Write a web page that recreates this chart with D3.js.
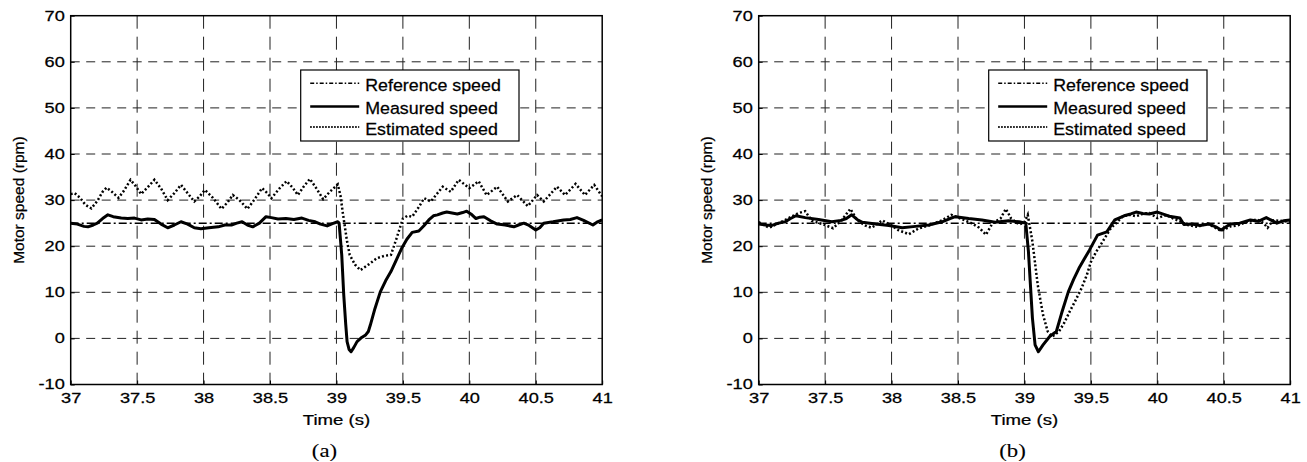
<!DOCTYPE html>
<html>
<head>
<meta charset="utf-8">
<script src="https://cdn.jsdelivr.net/npm/d3@7"></script>
<style>
    body { margin: 0; background: #fff; }
    svg text { font-family: "Liberation Sans", Arial, sans-serif; fill: #000; stroke: #000; stroke-width: 0.25px; }
</style>
</head>
<body>
<svg id="chart" width="1307" height="462"></svg>
<script>

// Axis ticks and labels
const timeTicks = [37, 37.5, 38, 38.5, 39, 39.5, 40, 40.5, 41];
const speedTicks = [-10, 0, 10, 20, 30, 40, 50, 60, 70];
const legendNames = ["Reference speed", "Measured speed", "Estimated speed"];
const captions = ["(a)", "(b)"];
const xTitle = "Time (s)";
const yTitle = "Motor speed (rpm)";

// Reference speed (rpm), constant
const referenceSpeed = [[37, 25], [41, 25]];

// (a) [time s, speed rpm]
const measuredA = [[37.00,25.0],[37.05,24.8],[37.10,24.3],[37.13,24.2],[37.17,24.6],[37.20,25.0],[37.24,26.0],[37.28,26.8],
    [37.32,26.4],[37.38,26.1],[37.43,26.0],[37.48,26.1],[37.53,25.7],[37.58,25.9],[37.63,25.8],[37.68,24.8],[37.73,24.0],
    [37.78,24.6],[37.83,25.3],[37.88,24.8],[37.93,24.0],[37.98,23.8],[38.04,24.0],[38.11,24.2],[38.16,24.6],[38.21,24.6],
    [38.25,25.0],[38.29,25.3],[38.33,24.6],[38.37,24.2],[38.42,25.0],[38.47,26.4],[38.51,26.2],[38.56,25.9],[38.62,26.0],
    [38.68,25.8],[38.74,26.1],[38.79,25.6],[38.84,25.3],[38.88,24.8],[38.93,24.4],[38.97,24.9],[39.01,25.3],[39.02,25.0],
    [39.04,18.0],[39.055,9.4],[39.07,3.0],[39.08,-0.7],[39.095,-2.4],[39.11,-2.9],[39.13,-2.0],[39.155,-0.7],[39.19,0.2],
    [39.22,0.75],[39.24,1.5],[39.255,2.9],[39.29,6.5],[39.33,10.1],[39.37,12.5],[39.41,14.5],[39.45,17.0],[39.49,19.5],
    [39.53,21.5],[39.57,23.0],[39.62,23.3],[39.66,24.5],[39.695,25.7],[39.73,26.6],[39.76,26.8],[39.80,27.2],[39.83,27.4],
    [39.87,27.2],[39.91,27.0],[39.95,27.3],[39.98,27.6],[40.02,26.8],[40.05,26.0],[40.08,26.3],[40.11,26.4],[40.16,25.5],
    [40.21,24.8],[40.27,24.6],[40.335,24.2],[40.37,24.6],[40.41,25.0],[40.45,24.5],[40.50,23.5],[40.53,24.0],[40.56,25.0],
    [40.63,25.3],[40.71,25.7],[40.76,25.8],[40.81,26.2],[40.86,25.6],[40.93,24.6],[40.96,25.2],[41.00,25.7]];

const estimatedA = [[37.00,31.3],[37.03,31.5],[37.07,30.5],[37.11,29.0],[37.155,28.2],[37.20,29.8],[37.24,31.8],[37.27,32.7],
    [37.31,31.8],[37.36,30.5],[37.40,32.0],[37.45,34.4],[37.49,33.0],[37.53,31.3],[37.58,32.8],[37.63,34.4],[37.68,32.5],
    [37.73,30.0],[37.78,31.5],[37.83,33.3],[37.88,31.5],[37.93,29.7],[37.97,30.8],[38.01,32.2],[38.07,30.5],[38.135,28.1],
    [38.18,29.5],[38.22,31.1],[38.27,30.0],[38.33,28.1],[38.38,30.0],[38.44,32.6],[38.48,31.5],[38.51,30.4],[38.57,32.5],
    [38.625,34.1],[38.67,32.7],[38.71,31.1],[38.75,32.8],[38.80,34.6],[38.85,32.5],[38.90,30.2],[38.95,31.8],[39.01,33.4],
    [39.03,31.0],[39.05,26.8],[39.08,21.0],[39.10,18.1],[39.14,16.0],[39.18,14.8],[39.24,16.0],[39.305,17.4],[39.36,17.9],
    [39.41,18.1],[39.45,21.5],[39.50,26.0],[39.535,26.6],[39.57,26.4],[39.62,28.5],[39.66,30.4],[39.71,29.7],[39.76,31.5],
    [39.80,32.9],[39.86,31.8],[39.92,34.4],[39.96,33.5],[40.00,32.6],[40.07,34.1],[40.13,31.1],[40.21,32.9],[40.29,29.7],
    [40.36,31.1],[40.44,28.7],[40.51,31.1],[40.56,29.7],[40.66,32.9],[40.72,31.1],[40.80,33.5],[40.87,31.1],[40.94,33.3],
    [41.00,30.8]];

// (b) [time s, speed rpm]
const measuredB = [[37.00,24.8],[37.05,24.6],[37.10,24.5],[37.15,25.0],[37.20,25.3],[37.24,26.0],[37.28,26.6],[37.35,26.2],
    [37.45,25.8],[37.55,25.3],[37.62,25.6],[37.66,26.0],[37.70,26.8],[37.74,25.8],[37.78,25.2],[37.88,24.8],[37.98,24.5],
    [38.08,24.0],[38.18,24.3],[38.28,24.6],[38.38,25.3],[38.44,26.0],[38.48,26.4],[38.58,26.0],[38.68,25.7],[38.78,25.2],
    [38.88,25.5],[38.96,25.3],[39.01,25.0],[39.03,18.8],[39.06,4.4],[39.08,-1.4],[39.105,-2.9],[39.14,-1.4],[39.19,0.4],
    [39.24,1.5],[39.28,5.5],[39.33,10.1],[39.37,12.8],[39.41,15.2],[39.45,17.2],[39.49,19.2],[39.55,22.4],[39.62,23.1],
    [39.68,25.7],[39.75,26.6],[39.80,27.0],[39.84,27.4],[39.89,27.1],[39.94,27.0],[40.00,27.4],[40.05,26.9],[40.09,26.5],
    [40.17,26.1],[40.20,24.7],[40.26,24.8],[40.32,24.5],[40.39,24.8],[40.44,24.2],[40.48,23.5],[40.55,24.8],[40.62,25.0],
    [40.70,25.7],[40.76,25.4],[40.82,26.2],[40.86,25.6],[40.90,25.0],[40.95,25.5],[41.00,25.7]];

const estimatedB = [[37.00,25.2],[37.04,24.6],[37.08,24.0],[37.15,25.0],[37.22,26.0],[37.30,27.2],[37.35,27.6],[37.40,25.5],
    [37.48,24.8],[37.56,23.9],[37.62,25.5],[37.69,28.1],[37.74,25.7],[37.80,24.5],[37.85,24.0],[37.93,25.6],[38.00,24.5],
    [38.05,23.5],[38.13,22.6],[38.20,23.8],[38.28,24.5],[38.38,25.6],[38.45,26.8],[38.52,26.0],[38.60,25.0],[38.66,24.0],
    [38.71,22.5],[38.76,25.0],[38.82,26.0],[38.86,28.1],[38.90,26.0],[38.96,24.7],[39.00,25.2],[39.025,26.8],[39.06,21.0],
    [39.10,11.6],[39.14,5.1],[39.175,1.5],[39.21,0.4],[39.26,1.5],[39.30,3.4],[39.34,5.8],[39.38,8.0],[39.43,10.9],
    [39.47,13.8],[39.50,16.6],[39.54,18.8],[39.58,20.6],[39.65,23.9],[39.70,25.3],[39.74,26.5],[39.79,26.8],[39.84,26.5],
    [39.89,27.0],[39.94,27.2],[40.00,26.1],[40.07,26.8],[40.12,26.0],[40.17,25.4],[40.23,24.6],[40.30,24.2],[40.38,24.9],
    [40.48,23.3],[40.55,24.3],[40.60,24.5],[40.68,25.3],[40.75,25.8],[40.80,25.0],[40.83,24.0],[40.87,25.6],[40.93,25.5],
    [41.00,25.3]];


class SpeedPanel {

    constructor(svg, left, measured, estimated, caption, id) {
        this.svg = svg;
        this.left = left;
        this.measured = measured;
        this.estimated = estimated;
        this.caption = caption;
        this.id = id;
        this.initVis();
    }

    initVis() {
        let vis = this;

        vis.top = 15.7;
        vis.width = 531.5;
        vis.height = 368.8;

        vis.g = vis.svg.append("g")
            .attr("transform", `translate(${vis.left},${vis.top})`);

        vis.x = d3.scaleLinear().domain([37, 41]).range([0, vis.width]);
        vis.y = d3.scaleLinear().domain([-10, 70]).range([vis.height, 0]);

        // Dashed grid
        vis.g.append("g")
            .selectAll("line")
            .data(speedTicks.slice(1, -1))
            .join("line")
            .attr("x1", 0).attr("x2", vis.width)
            .attr("y1", d => vis.y(d)).attr("y2", d => vis.y(d))
            .attr("stroke", "#222").attr("stroke-width", 1)
            .attr("stroke-dasharray", "9,6.5");

        vis.g.append("g")
            .selectAll("line")
            .data(timeTicks.slice(1, -1))
            .join("line")
            .attr("x1", d => vis.x(d)).attr("x2", d => vis.x(d))
            .attr("y1", 0).attr("y2", vis.height)
            .attr("stroke", "#222").attr("stroke-width", 1)
            .attr("stroke-dasharray", "13,8");

        // Axes
        let xAxis = vis.g.append("g")
            .attr("transform", `translate(0,${vis.height})`)
            .call(d3.axisBottom(vis.x).tickValues(timeTicks).tickFormat(d => String(d)).tickSizeInner(-4).tickSizeOuter(0).tickPadding(9));
        let yAxis = vis.g.append("g")
            .call(d3.axisLeft(vis.y).tickValues(speedTicks).tickFormat(d => String(d)).tickSizeInner(-4).tickSizeOuter(0).tickPadding(4.5));

        [xAxis, yAxis].forEach(a => {
            a.select(".domain").remove();
            a.selectAll("line").attr("stroke", "#000");
            a.selectAll("text")
                .attr("font-size", 14)
                .attr("font-family", '"Liberation Sans", Arial, sans-serif')
                .attr("transform", "scale(1.3,1)");
        });

        // Box
        vis.g.append("rect")
            .attr("width", vis.width).attr("height", vis.height)
            .attr("fill", "none").attr("stroke", "#000").attr("stroke-width", 1.5);

        // Lines
        vis.g.append("clipPath").attr("id", "clip" + vis.id)
            .append("rect").attr("width", vis.width).attr("height", vis.height);

        let line = d3.line().x(d => vis.x(d[0])).y(d => vis.y(d[1]));
        let lines = vis.g.append("g").attr("clip-path", `url(#clip${vis.id})`).attr("fill", "none");

        lines.append("path").attr("d", line(referenceSpeed))
            .attr("stroke", "#000").attr("stroke-width", 1.5).attr("stroke-dasharray", "8,3,2,3");
        lines.append("path").attr("d", line(vis.estimated))
            .attr("stroke", "#000").attr("stroke-width", 2.5).attr("stroke-dasharray", "2,2.2");
        lines.append("path").attr("d", line(vis.measured))
            .attr("stroke", "#000").attr("stroke-width", 3).attr("stroke-linejoin", "round");

        // Axis titles
        vis.g.append("text")
            .attr("transform", `translate(${vis.width / 2},${vis.height + 40.5}) scale(1.2,1)`)
            .attr("text-anchor", "middle").attr("font-size", 15.5)
            .text(xTitle);

        vis.g.append("text")
            .attr("transform", `translate(-46.5,${vis.height / 2}) rotate(-90)`)
            .attr("text-anchor", "middle").attr("font-size", 15.5)
            .text(yTitle);

        vis.g.append("text")
            .attr("transform", `translate(${vis.width / 2 - 12},${vis.height + 72}) scale(1.2,1)`)
            .attr("text-anchor", "middle").attr("font-size", 19)
            .style("font-family", '"Liberation Serif", "Times New Roman", serif')
            .style("stroke-width", "0.1px")
            .text(vis.caption);

        // Legend
        let legend = vis.g.append("g").attr("transform", "translate(230,54.3)");
        legend.append("rect")
            .attr("width", 218.3).attr("height", 71)
            .attr("fill", "#fff").attr("stroke", "#000").attr("stroke-width", 1.2);

        let styles = [
            {w: 1.5, dash: "4,2,1.5,2"},
            {w: 2.4, dash: null},
            {w: 2, dash: "1.5,1.5"}
        ];
        let rows = legend.selectAll("g.row")
            .data(legendNames)
            .join("g").attr("class", "row")
            .attr("transform", (d, i) => `translate(0,${[13.3, 36.5, 57][i]})`);
        rows.append("line")
            .attr("x1", 9.5).attr("x2", 58.5)
            .attr("stroke", "#000")
            .attr("stroke-width", (d, i) => styles[i].w)
            .attr("stroke-dasharray", (d, i) => styles[i].dash);
        rows.append("text")
            .attr("transform", "translate(64.5,7.5) scale(1.08,1)")
            .attr("font-size", 16.5)
            .text(d => d);
    }
}

let svg = d3.select("#chart");
new SpeedPanel(svg, 70.7, measuredA, estimatedA, captions[0], "a");
new SpeedPanel(svg, 758.7, measuredB, estimatedB, captions[1], "b");

</script>
</body>
</html>
